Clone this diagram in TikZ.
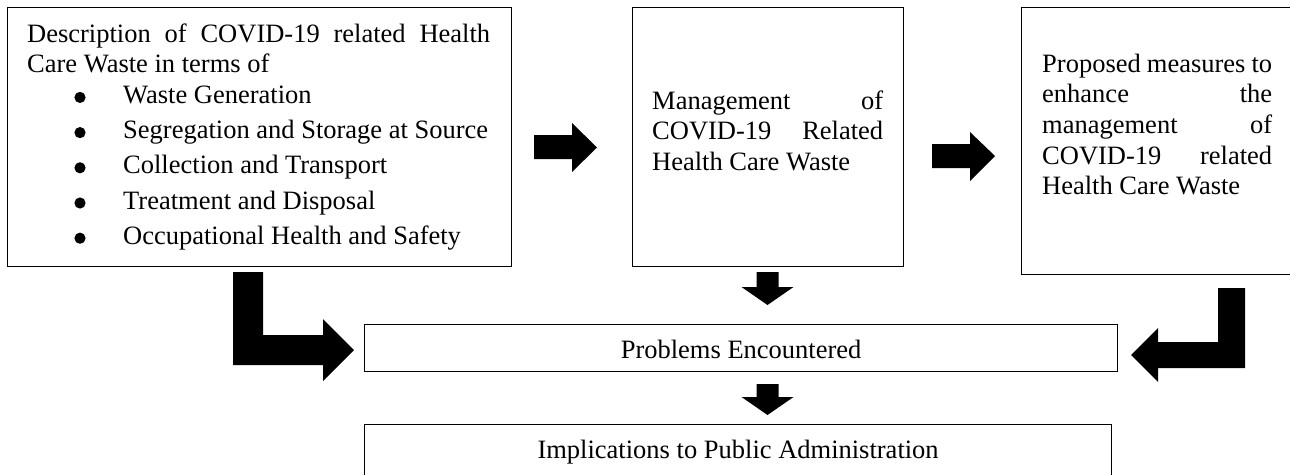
\documentclass[tikz,border=0pt]{standalone}
\usepackage{fontspec}
\setmainfont{Liberation Serif}
\begin{document}
\begin{tikzpicture}[x=1pt,y=-1pt,
  box/.style={draw=black, line width=1.2pt, inner sep=0pt, anchor=north west},
  bodytext/.style={font=\fontsize{26.5pt}{30.7pt}\selectfont},
  txt/.style={bodytext, inner sep=0pt, anchor=north west, align=left},
  blockarrow/.style={fill=black, draw=none},
  bulletdot/.style={fill=black}]
\useasboundingbox (0,0) rectangle (1290,474);
\clip (0,0) rectangle (1290,474);

% frames
\node[box, minimum width=504pt, minimum height=259pt] (desc) at (7,7) {};
\node[box, minimum width=271pt, minimum height=259pt] (mgmt) at (632,7) {};
\node[box, minimum width=290pt, minimum height=267pt] (prop) at (1021,7) {};
\node[box, bodytext, minimum width=753pt, minimum height=47pt,
      text height=21pt, text depth=0pt] (prob) at (364,324) {Problems Encountered};
\node[box, bodytext, minimum width=747pt, minimum height=52pt,
      text height=18pt, text depth=2pt] (impl) at (364,424) {Implications to Public Administration};

% texts inside the frames
\node[txt] (desctxt) at (27,20.5) {%
  \strut\makebox[463pt][s]{Description of COVID-19 related Health}\\
  \strut Care Waste in terms of\\
  \strut\hspace*{96pt}Waste Generation\\[4.5pt]
  \strut\hspace*{96pt}Segregation and Storage at Source\\[4.5pt]
  \strut\hspace*{96pt}Collection and Transport\\[4.5pt]
  \strut\hspace*{96pt}Treatment and Disposal\\[4.5pt]
  \strut\hspace*{96pt}Occupational Health and Safety};

% list bullets
\foreach \by in {97.4,132.6,167.8,203,238.2}
  \fill[bulletdot] (80,\by) circle (5.6pt);

\node[txt] (mgmttxt) at (652,87.5) {%
  \strut\makebox[231pt][s]{Management of}\\
  \strut\makebox[231pt][s]{COVID-19 Related}\\
  \strut Health Care Waste};

\node[txt] (proptxt) at (1042,50.5) {%
  \strut\makebox[230pt][s]{Proposed measures to}\\
  \strut\makebox[230pt][s]{enhance the}\\
  \strut\makebox[230pt][s]{management of}\\
  \strut\makebox[230pt][s]{COVID-19 related}\\
  \strut Health Care Waste};

% block arrows
\fill[blockarrow] (534,135) -- (572,135) -- (572,123) -- (597,147.5)
  -- (572,172) -- (572,159) -- (534,159) -- cycle;
\fill[blockarrow] (932,144) -- (970,144) -- (970,132) -- (995,156)
  -- (970,181) -- (970,168) -- (932,168) -- cycle;
\fill[blockarrow] (756.5,272) -- (778.5,272) -- (778.5,287) -- (793.5,287)
  -- (767.5,305) -- (741.5,287) -- (756.5,287) -- cycle;
\fill[blockarrow] (756.5,384) -- (778.5,384) -- (778.5,397) -- (793.5,397)
  -- (767.5,415) -- (741.5,397) -- (756.5,397) -- cycle;
\fill[blockarrow] (233,272) -- (263,272) -- (263,335) -- (323,335)
  -- (323,319) -- (354,350) -- (323,381) -- (323,365) -- (233,365) -- cycle;
\fill[blockarrow] (1218,288) -- (1245,288) -- (1245,368) -- (1158,368)
  -- (1158,382) -- (1131,355) -- (1158,328) -- (1158,342) -- (1218,342) -- cycle;
\end{tikzpicture}
\end{document}
